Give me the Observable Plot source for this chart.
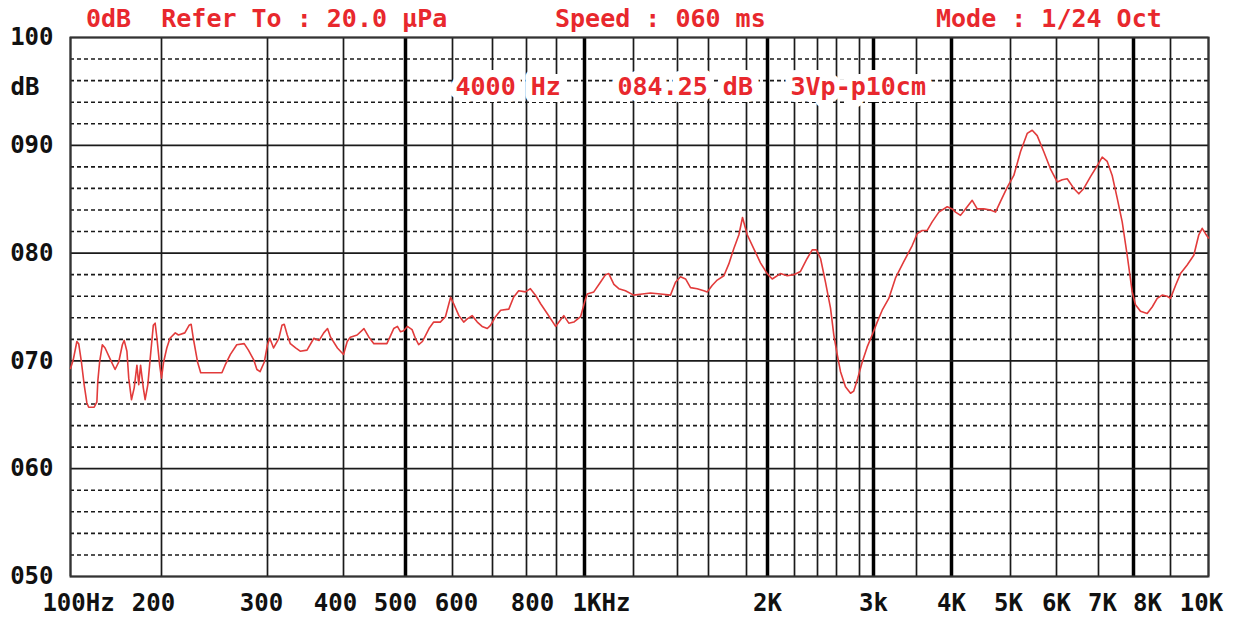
<!DOCTYPE html>
<html>
<head>
<meta charset="utf-8">
<script src="https://cdn.jsdelivr.net/npm/d3@7"></script>
<script src="https://cdn.jsdelivr.net/npm/@observablehq/plot@0.6"></script>
<style>
  body { margin: 0; background: #fff; }
  #wrap { position: relative; width: 1239px; height: 620px; }
  #header { position: absolute; left: 0; top: 0; width: 1239px; height: 37px; z-index: 2;
    font-family: "DejaVu Sans Mono", monospace; font-weight: bold; font-size: 25px; color: #e8282d; white-space: pre; }
  #header span { position: absolute; top: 5px; line-height: 28px; }
</style>
</head>
<body>
<div id="wrap"><div id="header"></div><div id="chart"></div></div>
<script>
// ---- header texts ----
const headerTexts = ["0dB  Refer To : 20.0 \u03bcPa", "Speed : 060 ms", "Mode : 1/24 Oct"];
const headerLeft = [86, 555, 936];

// ---- annotation texts ----
const annoTexts = ["4000 Hz", "084.25 dB", "3Vp-p10cm"];

// ---- axes ----
const gridFreqs = [100,200,300,400,500,600,700,800,900,1000,1200,1400,1600,1800,2000,2200,2400,2600,2800,3000,3500,4000,5000,6000,7000,8000,9000,10000];
const gridPx    = [70,161,267,343,405,452,492,526,556,584,633,677,708,746,767,794,817,836,859,873,916,951,1010,1056,1098,1133,1170,1208];
const thickFreqs = [500,1000,2000,3000,4000,8000];
const labelFreqs = [100,200,300,400,500,600,800,1000,2000,3000,4000,5000,6000,7000,8000,10000];
const labelTexts = ["100Hz","200","300","400","500","600","800","1KHz","2K","3k","4K","5K","6K","7K","8K","10K"];
const majorDb = [50,60,70,80,90,100];
const minorDb = [52,54,56,58,62,64,66,68,72,74,76,78,82,84,86,88,92,94,96,98];

// ---- measured response ----
const freqHz = [100,103,107,109,112,115,118,120,126,129,130,132,135,138,144,149,153,157,159,162,164,167,170,173,175,177,180,182,185,188,191,193,195,198,200,
202,205,208,213,216,222,226,228,230,234,237,243,257,260,265,271,278,282,287,290,293,297,300,
303,308,315,319,322,326,330,337,343,352,361,368,374,379,383,392,400,
406,411,422,433,441,449,460,470,481,487,492,497,
504,514,521,528,536,543,550,560,574,585,596,
603,616,628,637,649,662,674,687,695,
709,724,748,762,777,797,
813,830,847,869,897,
914,926,944,962,986,
1001,1011,1038,1065,1086,1099,1120,1140,1167,1201,
1240,1277,1323,1368,1391,
1419,1452,1484,1527,1570,1592,
1619,1646,1681,1707,1733,1760,1779,
1807,1870,1933,1997,
2035,2096,2146,2195,
2252,2310,2354,2391,
2432,2484,2537,2572,
2606,2635,2678,2722,2750,2785,
2839,2910,2981,
3043,3101,3178,3256,3352,3450,
3510,3581,3653,3724,3819,3939,
4012,4068,4153,4237,4351,4436,4547,4661,4746,4831,4944,
5072,5217,5363,5472,5580,5724,5870,
6017,6136,6255,6412,6531,6650,6810,6969,
7106,7249,7391,7534,7677,7820,7963,
8054,8189,8370,8505,8641,8776,8911,9000,
9132,9263,9439,9613,9745,9834,9921,10000];
const levelDb = [69.3,70.1,71.8,71.6,69.9,67.8,66.1,65.7,65.7,66.2,68.1,69.9,71.5,71.2,70.1,69.2,69.9,71.5,71.9,70.9,68.4,66.4,67.5,69.6,67.8,69.6,67.5,66.4,67.8,70.6,73.3,73.5,72.1,69.6,68.4,
69.9,71.2,72.1,72.6,72.4,72.6,73.3,73.4,72.1,69.9,68.9,68.9,68.9,69.6,70.6,71.5,71.6,71.0,70.1,69.2,69.0,69.9,71.5,
72.1,71.2,72.1,73.3,73.4,72.4,71.6,71.2,70.9,71.0,72.1,71.9,72.6,73.0,72.2,71.2,70.6,
71.8,72.2,72.4,73.0,72.2,71.6,71.6,71.6,73.0,73.2,72.7,72.8,
73.2,72.9,72.1,71.5,71.8,72.4,73.0,73.6,73.6,74.1,75.9,
75.3,74.2,73.6,73.9,74.2,73.6,73.2,73.0,73.3,
74.1,74.7,74.8,75.9,76.5,76.4,
76.7,76.1,75.3,74.4,73.2,
73.8,74.2,73.5,73.6,74.1,
75.5,76.2,76.4,77.3,78.0,78.1,77.1,76.7,76.5,76.1,
76.2,76.3,76.2,76.1,77.3,
77.8,77.6,76.8,76.7,76.5,76.4,
77.0,77.5,77.9,79.0,80.4,81.7,83.3,
81.7,80.4,79.1,78.1,
77.6,78.1,77.9,78.0,
78.3,79.5,80.3,80.3,
79.5,77.3,74.9,72.4,
70.6,69.0,67.6,67.0,67.2,68.4,
69.9,71.3,72.4,
73.6,74.7,75.8,77.7,79.2,80.7,
81.8,82.1,82.1,82.9,83.8,84.3,
84.1,83.8,83.5,84.1,84.9,84.1,84.1,84.0,83.8,84.8,86.1,
87.2,89.4,91.1,91.4,90.9,89.4,87.8,
86.6,86.8,86.9,86.0,85.5,86.0,87.1,88.1,
88.9,88.5,87.2,85.1,82.9,79.8,76.4,
75.2,74.6,74.4,75.0,75.8,76.1,76.0,75.8,
77.0,78.1,78.9,79.8,81.7,82.3,81.8,81.4];

// ---- layout / style (not data) ----
const labelShift = [8,-8,-6,-8,-10,4,6,17,0,0,0,-2,0,4,14,-7];   // px nudges of tick labels
const annoDx = [385, 547, 720];
const red = "#e8282d";
const lineRed = "#e23b3b";
const gridColor = "#1a1a1a";
const textStyle = {fontSize: 24, fontWeight: "bold"};

const response = freqHz.map((f, i) => ({f, db: levelDb[i]}));
const xLabels = labelFreqs.map((f, i) => ({f, t: labelTexts[i], s: labelShift[i]}));
const labelGroups = d3.groups(xLabels, d => d.s);

// header
const header = document.getElementById("header");
headerTexts.forEach((t, i) => {
  const s = document.createElement("span");
  s.textContent = t;
  s.style.left = headerLeft[i] + "px";
  header.appendChild(s);
});

const plot = Plot.plot({
  width: 1239,
  height: 620,
  marginTop: 37,
  marginBottom: 44,
  marginLeft: 70,
  marginRight: 31,
  style: {fontFamily: "'DejaVu Sans Mono', monospace", background: "#fff", color: "#111"},
  x: {type: "linear", domain: gridFreqs, range: gridPx, axis: null},
  y: {domain: [50, 100]},
  marks: [
    Plot.ruleY(minorDb, {stroke: gridColor, strokeWidth: 1.6, strokeDasharray: "4,3"}),
    Plot.ruleX(gridFreqs, {stroke: gridColor, strokeWidth: 1.7}),
    Plot.ruleX(thickFreqs, {stroke: "#000", strokeWidth: 3.5}),
    Plot.ruleY(majorDb, {stroke: gridColor, strokeWidth: 1.7}),
    Plot.frame({stroke: "#333", strokeWidth: 2}),
    Plot.line(response, {x: "f", y: "db", stroke: lineRed, strokeWidth: 1.6}),
    ...annoTexts.map((t, i) => Plot.text([t], {
      text: d => d, frameAnchor: "top-left", dx: annoDx[i], dy: 49, textAnchor: "start", lineAnchor: "middle",
      fill: red, stroke: "white", strokeWidth: 14, paintOrder: "stroke", fontSize: 25, fontWeight: "bold"
    })),
    Plot.axisY(majorDb, {tickSize: 0, tickPadding: 17, tickFormat: d => String(d).padStart(3, "0"), label: null, ...textStyle}),
    Plot.text(["dB"], {text: d => d, frameAnchor: "top-left", dx: -60, dy: 50, textAnchor: "start", lineAnchor: "middle", fill: "#111", ...textStyle}),
    ...labelGroups.map(([s, rows]) => Plot.text(rows, {
      x: "f", text: "t", frameAnchor: "bottom", dy: 27, dx: s, lineAnchor: "middle", fill: "#111", ...textStyle
    }))
  ]
});
document.getElementById("chart").appendChild(plot);
</script>
</body>
</html>
